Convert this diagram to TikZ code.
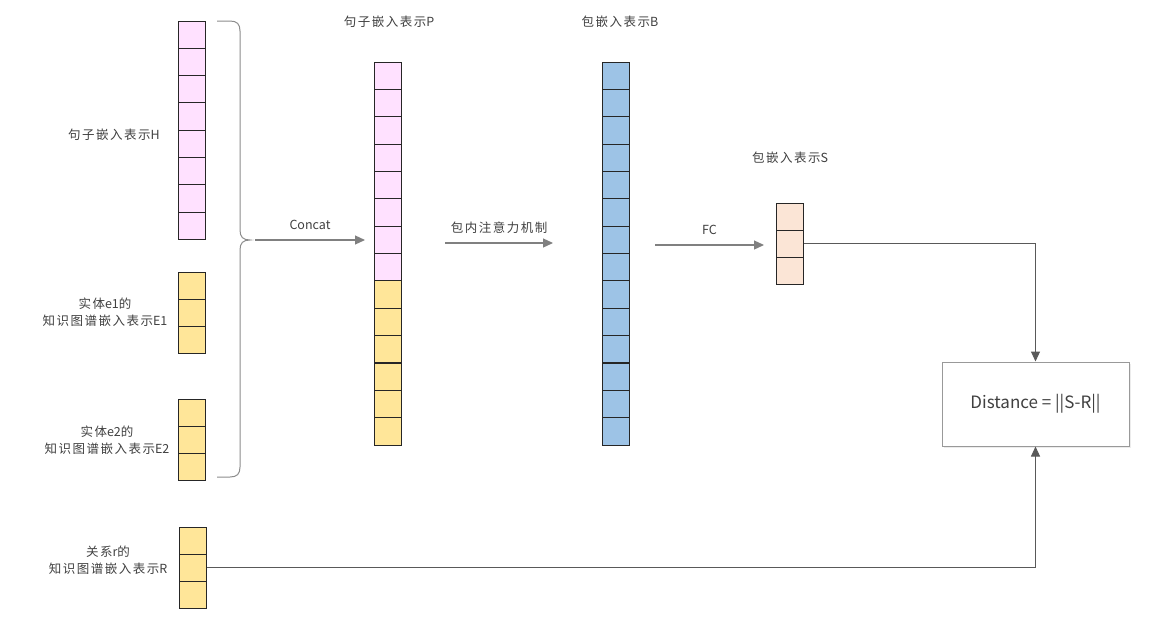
\documentclass[tikz,border=0pt]{standalone}
\usepackage{fontspec}
\setmainfont{Noto Sans CJK SC}
\newfontfamily\cjkf[LetterSpace=12]{Noto Sans CJK SC}
\usetikzlibrary{arrows.meta,shadows}
\definecolor{cpink}{HTML}{FFE1FF}
\definecolor{cyel}{HTML}{FFE699}
\definecolor{cblue}{HTML}{9DC3E6}
\definecolor{cpeach}{HTML}{FBE5D6}
\definecolor{cline}{HTML}{808080}
\definecolor{ctext}{HTML}{404040}
\begin{document}
\begin{tikzpicture}[x=1pt,y=-1pt,
 cell/.style={draw=black!85,line width=0.9pt,minimum width=27.5pt,minimum height=27.3pt,inner sep=0pt,outer sep=0pt,anchor=north west},
 lbl/.style={text=ctext,font=\fontsize{12.5}{17}\selectfont,align=center},
 flow/.style={draw=cline,line width=1.2pt,-{Triangle[length=10pt,width=9pt]}},
 conn/.style={draw=black!65,line width=1pt,-{Triangle[length=10pt,width=9pt]}},
 bracestyle/.style={draw=black!45,line width=1pt}]
\useasboundingbox (0,0) rectangle (1166,621);
% columns
\foreach \i in {1,...,8} \node[cell,fill=cpink] (h\i) at (178,{21+27.3*(\i-1)}) {};
\foreach \i in {1,2,3} \node[cell,fill=cyel] (ea\i) at (178,{272+27.3*(\i-1)}) {};
\foreach \i in {1,2,3} \node[cell,fill=cyel] (eb\i) at (178,{399+27.3*(\i-1)}) {};
\foreach \i in {1,2,3} \node[cell,fill=cyel] (r\i) at (179,{527+27.3*(\i-1)}) {};
\foreach \i in {1,...,8} \node[cell,fill=cpink] (p\i) at (374,{62+27.36*(\i-1)}) {};
\foreach \i in {9,...,14} \node[cell,fill=cyel] (p\i) at (374,{62+27.36*(\i-1)}) {};
\foreach \i in {1,...,14} \node[cell,fill=cblue] (b\i) at (602,{62+27.36*(\i-1)}) {};
\foreach \i in {1,2,3} \node[cell,fill=cpeach] (s\i) at (776,{203+27.3*(\i-1)}) {};
% labels
\node[lbl] (lh) at (114,135) {{\cjkf 句子嵌入表示}H};
\node[lbl] (le1) at (105,312) {{\cjkf 实体}e1{\cjkf 的}\\{\cjkf 知识图谱嵌入表示}E1};
\node[lbl] (le2) at (107,440) {{\cjkf 实体}e2{\cjkf 的}\\{\cjkf 知识图谱嵌入表示}E2};
\node[lbl] (lr) at (108,560) {{\cjkf 关系}r{\cjkf 的}\\{\cjkf 知识图谱嵌入表示}R};
\node[lbl] (lp) at (389,22) {{\cjkf 句子嵌入表示}P};
\node[lbl] (lb) at (620,22) {{\cjkf 包嵌入表示}B};
\node[lbl] (ls) at (790,158) {{\cjkf 包嵌入表示}S};
% brace
\draw[bracestyle] (217,21) -- (230,21) .. controls (237,21) and (240,24) .. (240,31) -- (240,230)
  .. controls (240,237) and (243,240) .. (250,240) .. controls (243,240) and (240,243) .. (240,250)
  -- (240,467) .. controls (240,474) and (237,477) .. (230,477) -- (217,477);
% flow arrows
\coordinate (c1) at (255,240); \coordinate (c2) at (365,240);
\draw[flow] (c1) -- (c2) node[lbl,midway,above=6pt] (lconcat) {Concat};
\coordinate (a1) at (445,243); \coordinate (a2) at (553,243);
\draw[flow] (a1) -- (a2) node[lbl,midway,above=6pt] (latt) {\cjkf 包内注意力机制};
\coordinate (f1) at (655,245); \coordinate (f2) at (764,245);
\draw[flow] (f1) -- (f2) node[lbl,midway,above=6pt] (lfc) {FC};
% distance box
\node[draw=black!40,line width=1pt,fill=white,minimum width=187pt,minimum height=84pt,
  drop shadow={opacity=0.15,shadow xshift=2pt,shadow yshift=-2pt},
  text=ctext,font=\fontsize{17}{20}\selectfont] (dist) at (1035.5,404) {Distance = ||S-R||};
\draw[conn] (s2.east) -| (dist.north);
\draw[conn] (r2.east) -| (dist.south);
\end{tikzpicture}
\end{document}
